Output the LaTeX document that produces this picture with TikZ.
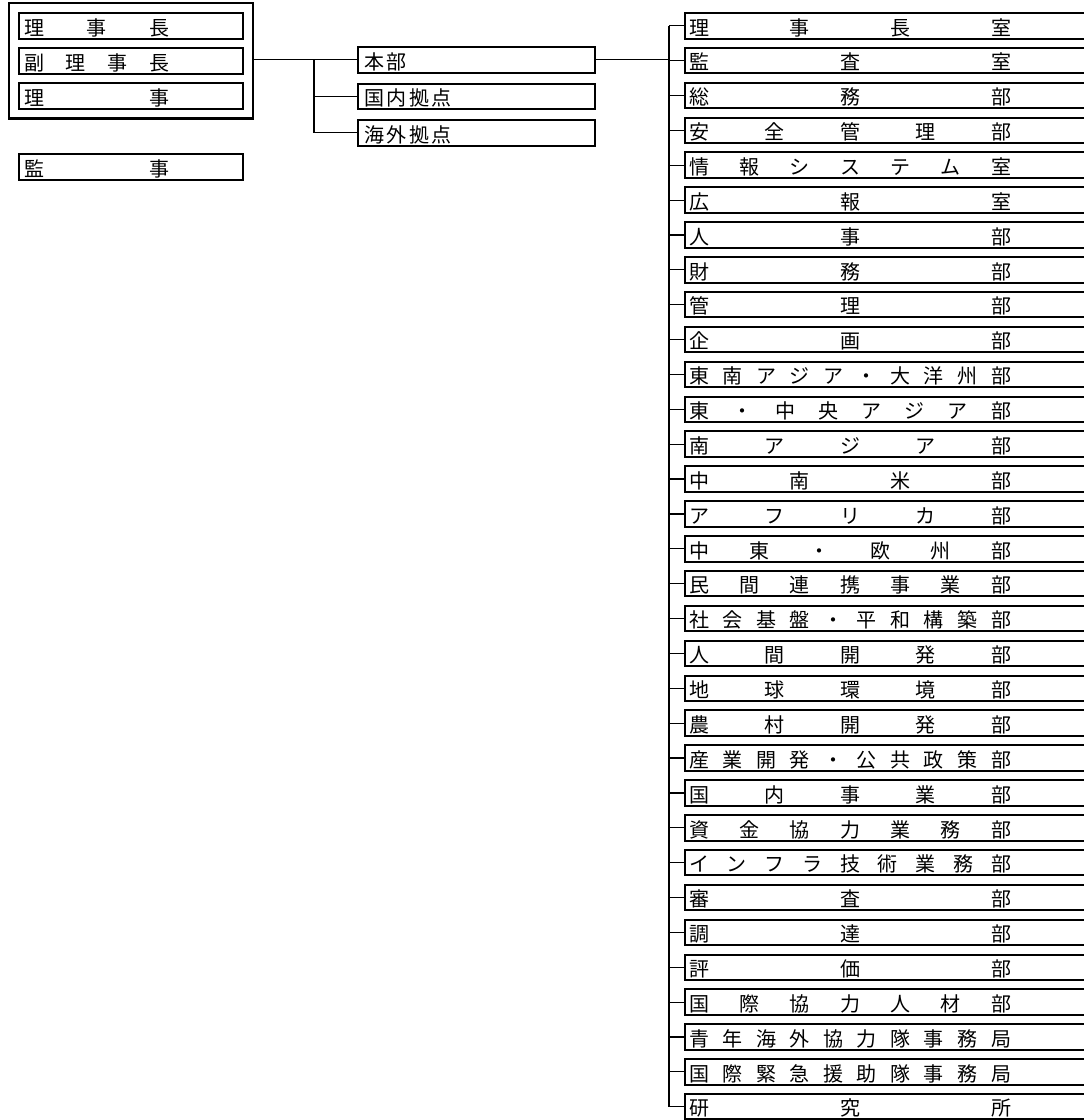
\documentclass[tikz,border=0pt]{standalone}
\usepackage{fontspec}
\newfontfamily\jpfont{Noto Sans CJK JP}
\usetikzlibrary{positioning,fit}
% spread the characters of #2 evenly over width #1
\newcommand{\spreadtext}[2]{\makebox[#1][s]{\expandafter\spreadloop#2\relax}}
\def\spreadloop#1#2{#1\ifx#2\relax\else\hfill\expandafter\spreadloop\expandafter#2\fi}

\begin{document}
\begin{tikzpicture}[
  x=1pt, y=-1pt,
  box/.style={draw, line width=2pt, outer sep=0pt, anchor=north west, inner ysep=0pt,
    text height=22pt, text depth=3.5pt, align=left, font=\jpfont\fontsize{20}{22}\selectfont},
  lbox/.style={box, inner xsep=5pt, text width=214pt},
  mbox/.style={box, inner xsep=6pt, text width=225pt},
  rbox/.style={box, inner xsep=4pt, text width=412pt},
  conn/.style={line width=1.2pt}
]
\useasboundingbox (0,0) rectangle (1084,1120);

% executives
\node[lbox] (chair) at (19,13) {\spreadtext{145pt}{理事長}};
\node[lbox, below=9.5pt of chair] (vice) {\spreadtext{145pt}{副理事長}};
\node[lbox, below=9.5pt of vice] (exdir) {\spreadtext{145pt}{理事}};
\node[draw, line width=2.4pt, fit=(chair)(exdir), inner sep=10pt] (exec) {};
\node[lbox, below=45.5pt of exdir] (auditor) {\spreadtext{145pt}{監事}};

% headquarters and offices
\node[mbox] (honbu) at (358,47) {\spreadtext{42pt}{本部}};
\node[mbox, below=11pt of honbu] (kokunai) {\spreadtext{87.5pt}{国内拠点}};
\node[mbox, below=11pt of kokunai] (kaigai) {\spreadtext{87.5pt}{海外拠点}};
\coordinate[left=44pt of honbu.west] (jct);
\draw[conn] (exec.east |- honbu.west) -- (honbu.west);
\draw[conn] (jct) |- (kaigai.west);
\draw[conn] (jct |- kokunai.west) -- (kokunai.west);

% departments
\foreach \dept [count=\i] in {理事長室, 監査室, 総務部, 安全管理部, 情報システム室, 広報室,
    人事部, 財務部, 管理部, 企画部, 東南アジア・大洋州部, 東・中央アジア部, 南アジア部,
    中南米部, アフリカ部, 中東・欧州部, 民間連携事業部, 社会基盤・平和構築部, 人間開発部,
    地球環境部, 農村開発部, 産業開発・公共政策部, 国内事業部, 資金協力業務部,
    インフラ技術業務部, 審査部, 調達部, 評価部, 国際協力人材部, 青年海外協力隊事務局,
    国際緊急援助隊事務局, 研究所}
{
  \node[rbox] (r\i) at (685,{13+34.87*(\i-1)}) {\spreadtext{322pt}{\dept}};
  \draw[conn] (r\i.west) -- ++(-16,0);
}
\coordinate[left=16pt of r1.west] (bus);
\draw[conn] (bus) |- (r32.west);
\draw[conn] (honbu.east) -- (honbu.east -| bus);
\end{tikzpicture}
\end{document}
